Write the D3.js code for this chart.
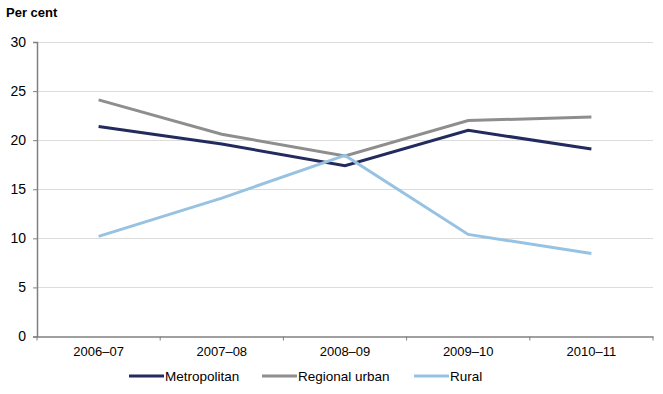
<!DOCTYPE html>
<html>
<head>
<meta charset="utf-8">
<script src="https://cdn.jsdelivr.net/npm/d3@7"></script>
<style>
  body { margin: 0; background: #fff; }
  svg text { font-family: "Liberation Sans", Arial, sans-serif; fill: #000; }
</style>
</head>
<body>
<div id="chart"></div>
<script>
// data
var years = ["2006–07", "2007–08", "2008–09", "2009–10", "2010–11"];
var metropolitan = [21.4, 19.6, 17.4, 21.0, 19.1];
var regionalUrban = [24.1, 20.6, 18.4, 22.0, 22.35];
var rural = [10.2, 14.1, 18.45, 10.4, 8.45];
var yTicks = [0, 5, 10, 15, 20, 25, 30];

var seriesNames = ["Metropolitan", "Regional urban", "Rural"];
var seriesColors = ["#222a5e", "#8e8e8e", "#97c2e2"];
var seriesData = [metropolitan, regionalUrban, rural];

var width = 663, height = 394;
var margin = {top: 42, right: 10, bottom: 58, left: 37};

var svg = d3.select("#chart")
  .append("svg")
    .attr("width", width)
    .attr("height", height);

var x = d3.scaleBand()
  .domain(years)
  .range([margin.left, 653]);

var y = d3.scaleLinear()
  .domain([0, 30])
  .range([336.5, margin.top]);

// gridlines
svg.append("g")
  .selectAll("line")
  .data(yTicks.filter(function(d){ return d > 0; }))
  .enter().append("line")
    .attr("x1", margin.left)
    .attr("x2", 653)
    .attr("y1", function(d){ return Math.round(y(d)) + 0.5; })
    .attr("y2", function(d){ return Math.round(y(d)) + 0.5; })
    .attr("stroke", "#dcdcdc")
    .attr("stroke-width", 1);

// y axis
var yAxis = svg.append("g")
  .attr("transform", "translate(" + margin.left + ",0)")
  .call(d3.axisLeft(y).tickValues(yTicks).tickSize(4).tickPadding(7));
yAxis.selectAll("text").style("font-size", "14px");

// x axis
var xAxis = svg.append("g")
  .attr("transform", "translate(0," + y(0) + ")")
  .call(d3.axisBottom(x).tickSize(0).tickPadding(10));
xAxis.selectAll("text").style("font-size", "13px");
// tick marks on band edges
xAxis.selectAll(".edge")
  .data(years.concat(["end"]))
  .enter().append("line")
    .attr("class", "edge")
    .attr("x1", function(d, i){ return margin.left + i * x.step(); })
    .attr("x2", function(d, i){ return margin.left + i * x.step(); })
    .attr("y1", 0)
    .attr("y2", 4)
    .attr("stroke", "#808080");

svg.selectAll(".domain").attr("stroke", "#808080").attr("stroke-width", 1.5);
yAxis.selectAll(".tick line").attr("stroke", "#808080");

// lines
var line = d3.line()
  .x(function(d, i){ return x(years[i]) + x.bandwidth() / 2; })
  .y(function(d){ return y(d); });

svg.selectAll(".series")
  .data(seriesData)
  .enter().append("path")
    .attr("class", "series")
    .attr("d", line)
    .attr("fill", "none")
    .attr("stroke", function(d, i){ return seriesColors[i]; })
    .attr("stroke-width", 3)
    .attr("stroke-linejoin", "miter");

// title
svg.append("text")
  .attr("x", 6)
  .attr("y", 17)
  .style("font-size", "13px")
  .style("font-weight", "bold")
  .text("Per cent");

// legend
var legendX = [129, 262, 414];
var legend = svg.selectAll(".legend")
  .data(seriesNames)
  .enter().append("g")
    .attr("class", "legend")
    .attr("transform", function(d, i){ return "translate(" + legendX[i] + ",376)"; });

legend.append("line")
  .attr("x1", 0).attr("x2", 35)
  .attr("y1", 0).attr("y2", 0)
  .attr("stroke", function(d, i){ return seriesColors[i]; })
  .attr("stroke-width", 3);

legend.append("text")
  .attr("x", 36)
  .attr("y", 5)
  .style("font-size", "13.5px")
  .text(function(d){ return d; });
</script>
</body>
</html>
